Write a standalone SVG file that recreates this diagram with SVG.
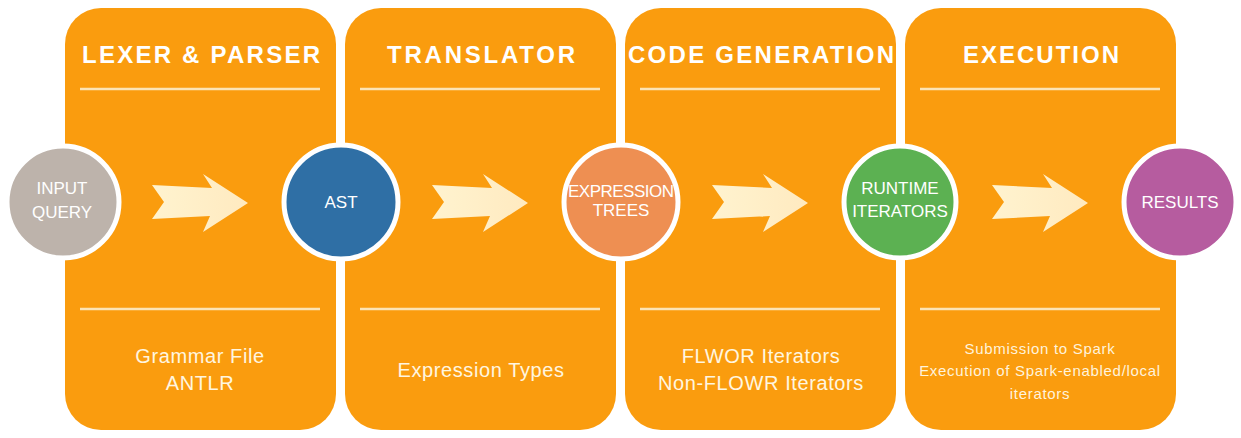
<svg xmlns="http://www.w3.org/2000/svg" width="1241" height="438" viewBox="0 0 1241 438">
<style>
.panel{fill:#FA9C0E}
.sep{stroke:#FBE3B5;stroke-width:2.5}
.title{font-family:"Liberation Sans",Arial,sans-serif;font-weight:bold;font-size:24px;fill:#FFFFFF;text-anchor:middle}
.desc{font-family:"Liberation Sans",Arial,sans-serif;font-size:20px;fill:#FFF6E0;text-anchor:middle;letter-spacing:0.6px}
.small{font-family:"Liberation Sans",Arial,sans-serif;font-size:15px;fill:#FFF3DC;text-anchor:middle;letter-spacing:0.7px}
.ring{stroke:#FFFFFF;stroke-width:5}
.ctext{font-family:"Liberation Sans",Arial,sans-serif;font-size:17px;fill:#FFFFFF;text-anchor:middle}
.arrow{fill:url(#ag)}
</style>
<defs>
<linearGradient id="ag" x1="0" y1="0" x2="1" y2="0">
<stop offset="0" stop-color="#FFF3CF"/>
<stop offset="1" stop-color="#FFEAC0"/>
</linearGradient>
<path id="arr" d="M0,-17 L60,-14 L51,-28 L96,1 L51,30 L58,14 L0,17 L12,0 Z"/>
</defs>
<rect width="1241" height="438" fill="#FFFFFF"/>
<g id="panel-lexer">
<rect class="panel" x="65" y="8" width="271" height="422" rx="36"/>
<text class="title" x="201" y="63" textLength="238" lengthAdjust="spacing">LEXER &amp; PARSER</text>
<line class="sep" x1="80" y1="89" x2="320" y2="89"/>
<line class="sep" x1="80" y1="309" x2="320" y2="309"/>
<text class="desc" x="200" y="363">Grammar File</text>
<text class="desc" x="200" y="390">ANTLR</text>
</g>
<g id="panel-translator">
<rect class="panel" x="345" y="8" width="271" height="422" rx="36"/>
<text class="title" x="481" y="63" textLength="188" lengthAdjust="spacing">TRANSLATOR</text>
<line class="sep" x1="360" y1="89" x2="600" y2="89"/>
<line class="sep" x1="360" y1="309" x2="600" y2="309"/>
<text class="desc" x="481" y="377">Expression Types</text>
</g>
<g id="panel-codegen">
<rect class="panel" x="625" y="8" width="271" height="422" rx="36"/>
<text class="title" x="761" y="63" textLength="266" lengthAdjust="spacing">CODE GENERATION</text>
<line class="sep" x1="640" y1="89" x2="880" y2="89"/>
<line class="sep" x1="640" y1="309" x2="880" y2="309"/>
<text class="desc" x="761" y="363">FLWOR Iterators</text>
<text class="desc" x="761" y="390">Non-FLOWR Iterators</text>
</g>
<g id="panel-execution">
<rect class="panel" x="905" y="8" width="271" height="422" rx="36"/>
<text class="title" x="1041" y="63" textLength="156" lengthAdjust="spacing">EXECUTION</text>
<line class="sep" x1="920" y1="89" x2="1160" y2="89"/>
<line class="sep" x1="920" y1="309" x2="1160" y2="309"/>
<text class="small" x="1040" y="354">Submission to Spark</text>
<text class="small" x="1040" y="376">Execution of Spark-enabled/local</text>
<text class="small" x="1040" y="399">iterators</text>
</g>
<g id="connectors">
<use href="#arr" class="arrow" transform="translate(152,202)"/>
<use href="#arr" class="arrow" transform="translate(432,202)"/>
<use href="#arr" class="arrow" transform="translate(712,202)"/>
<use href="#arr" class="arrow" transform="translate(992,202)"/>
</g>
<g id="node-input">
<circle class="ring" cx="63" cy="202" r="56" fill="#BDB3AB"/>
<text class="ctext" x="62" y="194">INPUT</text>
<text class="ctext" x="62" y="218">QUERY</text>
</g>
<g id="node-ast">
<circle class="ring" cx="341" cy="202" r="57" fill="#2F6FA5"/>
<text class="ctext" x="341" y="208">AST</text>
</g>
<g id="node-expr">
<circle class="ring" cx="621" cy="202" r="57" fill="#EE8F52"/>
<text class="ctext" x="621" y="197" font-size="14" textLength="106" lengthAdjust="spacing">EXPRESSION</text>
<text class="ctext" x="621" y="216" font-size="14">TREES</text>
</g>
<g id="node-runtime">
<circle class="ring" cx="900" cy="202" r="56" fill="#5CB152"/>
<text class="ctext" x="900" y="194">RUNTIME</text>
<text class="ctext" x="900" y="217">ITERATORS</text>
</g>
<g id="node-results">
<circle class="ring" cx="1180" cy="202" r="56" fill="#B65C9F"/>
<text class="ctext" x="1180" y="208">RESULTS</text>
</g>
</svg>
